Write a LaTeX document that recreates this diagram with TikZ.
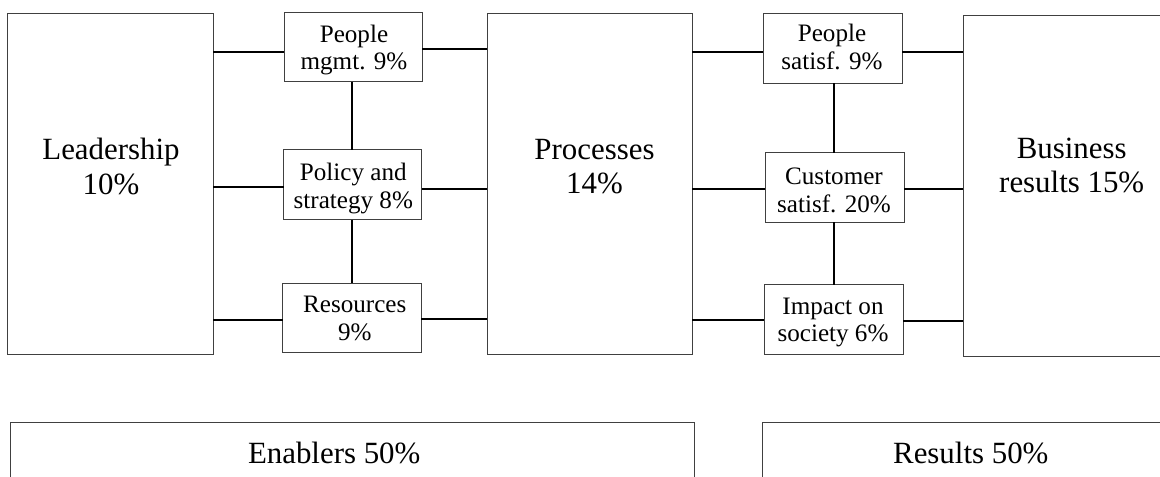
\documentclass[tikz,border=0pt]{standalone}
\usepackage{fontspec}
\setmainfont{Liberation Serif}
\begin{document}
\begin{tikzpicture}[x=1bp,y=-1bp,
  boxe/.style={draw=black!75,line width=1bp,rectangle,inner sep=0pt,outer sep=0pt},
  conn/.style={draw=black,line width=1.9bp},
  bigtxt/.style={font=\fontsize{31}{34.8}\selectfont,align=center,inner sep=0pt},
  smalltxt/.style={font=\fontsize{25.2}{28}\selectfont,align=center,inner sep=0pt}]
\useasboundingbox (0,0) rectangle (1160,477);
\clip (0,0) rectangle (1160,477);
% boxes
\node[boxe,minimum width=205.3bp,minimum height=340.7bp] (lead) at (110.65,183.65) {};
\node[boxe,minimum width=138bp,minimum height=69bp] (pm) at (353,47.5) {};
\node[boxe,minimum width=138.2bp,minimum height=69.7bp] (pol) at (352.6,184.85) {};
\node[boxe,minimum width=138.8bp,minimum height=69.5bp] (res) at (351.9,318.25) {};
\node[boxe,minimum width=205bp,minimum height=340.7bp] (proc) at (589.8,183.65) {};
\node[boxe,minimum width=139bp,minimum height=69.3bp] (psat) at (832.8,48.65) {};
\node[boxe,minimum width=139bp,minimum height=69.6bp] (cust) at (834.8,187.5) {};
\node[boxe,minimum width=139bp,minimum height=69.7bp] (imp) at (833.5,319.85) {};
\node[boxe,minimum width=216.7bp,minimum height=341bp] (bus) at (1071.65,186.2) {};
\node[boxe,minimum width=683.6bp,minimum height=97.3bp] (enab) at (352.5,471.35) {};
\node[boxe,minimum width=417.3bp,minimum height=97.3bp] (resu) at (971.35,471.35) {};
% texts
\node[bigtxt] (lead-t) at (111,166.5) {Leadership\\10\%};
\node[bigtxt] (proc-t) at (594.5,166.5) {Processes\\14\%};
\node[bigtxt] (bus-t) at (1071.7,165.5) {Business\\results 15\%};
\node[smalltxt] (pm-t) at (354,50) {People\\mgmt. 9\%};
\node[smalltxt] (pol-t) at (353.3,188.3) {Policy and\\strategy 8\%};
\node[smalltxt] (res-t) at (354.8,318) {Resources\\9\%};
\node[smalltxt] (psat-t) at (832,46.8) {People\\satisf. 9\%};
\node[smalltxt] (cust-t) at (834,190.1) {Customer\\satisf. 20\%};
\node[smalltxt] (imp-t) at (833,322.5) {Impact on\\society 6\%};
\node[bigtxt,anchor=base] (enab-t) at (334.2,463) {Enablers 50\%};
\node[bigtxt,anchor=base] (resu-t) at (970.8,463) {Results 50\%};
% connectors
\draw[conn] (lead.east |- 0,51.7) -- (pm.west |- 0,51.7);
\draw[conn] (lead.east |- 0,187) -- (pol.west |- 0,187);
\draw[conn] (lead.east |- 0,320) -- (res.west |- 0,320);
\draw[conn] (pm.east |- 0,49.3) -- (proc.west |- 0,49.3);
\draw[conn] (pol.east |- 0,188.7) -- (proc.west |- 0,188.7);
\draw[conn] (res.east |- 0,319) -- (proc.west |- 0,319);
\draw[conn] (proc.east |- 0,51.7) -- (psat.west |- 0,51.7);
\draw[conn] (proc.east |- 0,188.7) -- (cust.west |- 0,188.7);
\draw[conn] (proc.east |- 0,320) -- (imp.west |- 0,320);
\draw[conn] (psat.east |- 0,51.7) -- (bus.west |- 0,51.7);
\draw[conn] (cust.east |- 0,188.7) -- (bus.west |- 0,188.7);
\draw[conn] (imp.east |- 0,320.7) -- (bus.west |- 0,320.7);
\draw[conn] (352,0 |- pm.south) -- (352,0 |- pol.north);
\draw[conn] (352,0 |- pol.south) -- (352,0 |- res.north);
\draw[conn] (834,0 |- psat.south) -- (834,0 |- cust.north);
\draw[conn] (834,0 |- cust.south) -- (834,0 |- imp.north);
\end{tikzpicture}
\end{document}
